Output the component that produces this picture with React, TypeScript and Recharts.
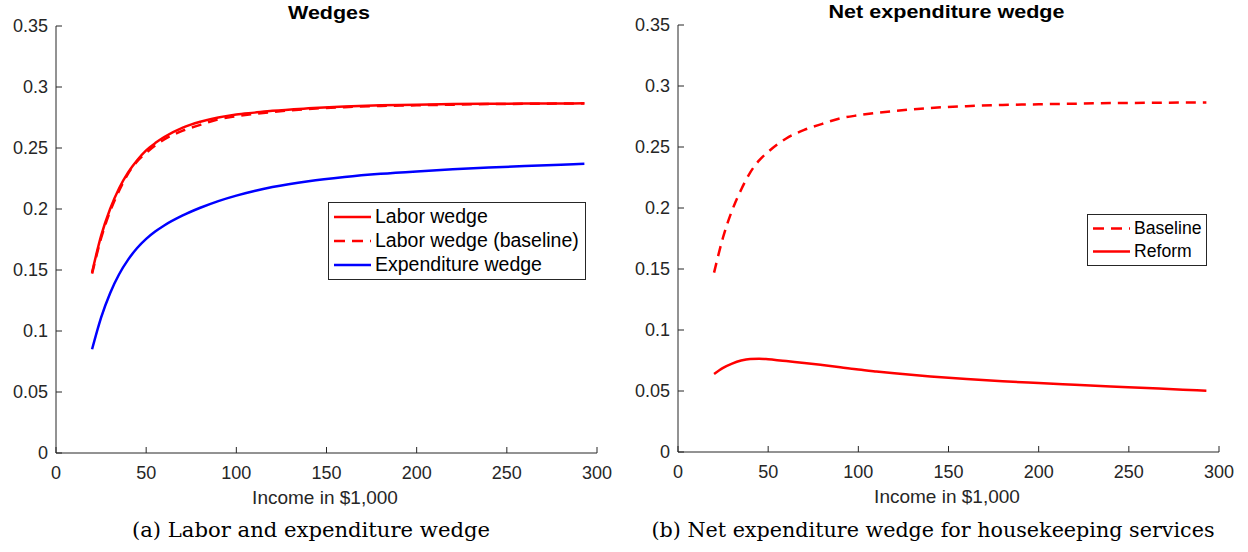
import React from "react";
import { LineChart, Line, XAxis, YAxis, Legend } from "recharts";

const income = [20, 25, 30, 35, 40, 45, 50, 55, 60, 70, 80, 90, 100, 110, 120, 140, 160, 180, 200, 220, 240, 260, 280, 293];
const laborWedge = [0.148, 0.178, 0.2, 0.217, 0.23, 0.24, 0.248, 0.254, 0.259, 0.2665, 0.2715, 0.275, 0.2775, 0.279, 0.2805, 0.2825, 0.284, 0.285, 0.2855, 0.286, 0.2862, 0.2864, 0.2865, 0.2866];
const laborBaseline = [0.147, 0.176, 0.198, 0.215, 0.229, 0.239, 0.246, 0.252, 0.257, 0.264, 0.269, 0.2735, 0.276, 0.278, 0.2795, 0.282, 0.2835, 0.2845, 0.285, 0.2855, 0.286, 0.2862, 0.2864, 0.2865];
const expenditureWedge = [0.085, 0.111, 0.131, 0.1465, 0.1585, 0.168, 0.1755, 0.1815, 0.1865, 0.1945, 0.201, 0.2065, 0.211, 0.2148, 0.218, 0.2228, 0.2262, 0.2288, 0.2308, 0.2325, 0.234, 0.2352, 0.2363, 0.237];
const reformNet = [0.064, 0.069, 0.0725, 0.075, 0.0763, 0.0765, 0.076, 0.0753, 0.0745, 0.073, 0.0713, 0.0695, 0.0676, 0.066, 0.0645, 0.0619, 0.0598, 0.058, 0.0565, 0.0551, 0.0537, 0.0524, 0.0511, 0.0503];

const xTicks = [0, 50, 100, 150, 200, 250, 300];
const yTicks = [0, 0.05, 0.1, 0.15, 0.2, 0.25, 0.3, 0.35];
const yTickLabels = ["0", "0.05", "0.1", "0.15", "0.2", "0.25", "0.3", "0.35"];

const titleA = "Wedges";
const titleB = "Net expenditure wedge";
const xLabel = "Income in $1,000";
const captionA = "(a) Labor and expenditure wedge";
const captionB = "(b) Net expenditure wedge for housekeeping services";
const legendOrderA = ["Labor wedge", "Labor wedge (baseline)", "Expenditure wedge"];
const legendOrderB = ["Baseline", "Reform"];

const dataA = income.map((x, i) => ({ x, labor: laborWedge[i], base: laborBaseline[i], exp: expenditureWedge[i] }));
const dataB = income.map((x, i) => ({ x, base: laborBaseline[i], reform: reformNet[i] }));

const AX = "#262626";
const FONT = "'Liberation Sans', Arial, Helvetica, sans-serif";
const TL = 6;
const DASH = "10 7";

const BottomTick = (p: any) => (
  <g>
    <line x1={p.x} x2={p.x} y1={p.y} y2={p.y - TL} stroke={AX} strokeWidth={1} />
    <text x={p.x} y={p.y + 26} textAnchor="middle" fontSize={18} fill={AX} fontFamily={FONT}>
      {p.payload.value}
    </text>
  </g>
);
const TopTick = (p: any) => (
  <line x1={p.x} x2={p.x} y1={p.y} y2={p.y + TL} stroke={AX} strokeWidth={1} />
);
const LeftTick = (p: any) => {
  const idx = yTicks.indexOf(p.payload.value);
  return (
    <g>
      <line x1={p.x} x2={p.x + TL} y1={p.y} y2={p.y} stroke={AX} strokeWidth={1} />
      <text x={p.x - 8} y={p.y + 6} textAnchor="end" fontSize={18} fill={AX} fontFamily={FONT}>
        {idx >= 0 ? yTickLabels[idx] : p.payload.value}
      </text>
    </g>
  );
};
const RightTick = (p: any) => (
  <line x1={p.x} x2={p.x - TL} y1={p.y} y2={p.y} stroke={AX} strokeWidth={1} />
);

const makeLegend = (fontSize: number, rowH: number, w: number, order: string[]) => (props: any) => {
  const items = [...(props.payload || [])].sort(
    (a: any, b: any) => order.indexOf(a.value) - order.indexOf(b.value)
  );
  return (
    <div
      style={{
        border: "1px solid #262626",
        background: "#fff",
        width: w,
        boxSizing: "border-box",
        padding: "2px 0 2px 4px",
        fontFamily: FONT,
        fontSize,
        color: "#000",
      }}
    >
      {items.map((it: any, i: number) => (
        <div key={i} style={{ display: "flex", alignItems: "center", height: rowH, whiteSpace: "nowrap" }}>
          <svg width={42} height={rowH} style={{ display: "block", flex: "none" }}>
            <line
              x1={1}
              x2={38}
              y1={rowH / 2}
              y2={rowH / 2}
              stroke={it.color}
              strokeWidth={2.5}
              strokeDasharray={it.payload && it.payload.strokeDasharray ? "11 7" : undefined}
            />
          </svg>
          <span style={{ lineHeight: 1 }}>{it.value}</span>
        </div>
      ))}
    </div>
  );
};

const Panel = ({ left, plotTop, plotBottom, data, children, legend, legendPos }: any) => (
  <div style={{ position: "absolute", left, top: 0 }}>
    <LineChart width={620} height={552} data={data} margin={{ top: plotTop, right: 23, bottom: 0, left: 0 }}>
      <XAxis
        dataKey="x"
        type="number"
        domain={[0, 300]}
        ticks={xTicks}
        allowDataOverflow
        height={552 - plotBottom}
        axisLine={{ stroke: AX }}
        tickLine={false}
        tickSize={0}
        tickMargin={0}
        tick={<BottomTick />}
        interval={0}
      />
      <XAxis
        xAxisId="t"
        orientation="top"
        dataKey="x"
        type="number"
        domain={[0, 300]}
        ticks={xTicks}
        height={0}
        axisLine={{ stroke: AX }}
        tickLine={false}
        tickSize={0}
        tickMargin={0}
        tick={<TopTick />}
        interval={0}
      />
      <YAxis
        type="number"
        domain={[0, 0.35]}
        ticks={yTicks}
        width={56}
        axisLine={{ stroke: AX }}
        tickLine={false}
        tickSize={0}
        tickMargin={0}
        tick={<LeftTick />}
        interval={0}
      />
      <YAxis
        yAxisId="r"
        orientation="right"
        type="number"
        domain={[0, 0.35]}
        ticks={yTicks}
        width={0}
        axisLine={{ stroke: AX }}
        tickLine={false}
        tickSize={0}
        tickMargin={0}
        tick={<RightTick />}
        interval={0}
      />
      {children}
      <Legend
        layout="vertical"
        align="center"
        verticalAlign="middle"
        wrapperStyle={{ left: legendPos.left, top: legendPos.top, width: legendPos.w }}
        content={legend}
      />
    </LineChart>
  </div>
);

export default function App() {
  return (
    <div style={{ position: "absolute", left: 0, top: 0, width: 1248, height: 552, background: "#fff", overflow: "hidden" }}>
      <Panel
        left={0}
        plotTop={26}
        plotBottom={453}
        data={dataA}
        legend={makeLegend(19.5, 24, 258, legendOrderA)}
        legendPos={{ left: 328, top: 202, w: 258 }}
      >
        <Line dataKey="labor" name="Labor wedge" type="monotone" stroke="#ff0000" strokeWidth={2.5} dot={false} isAnimationActive={false} />
        <Line dataKey="base" name="Labor wedge (baseline)" type="monotone" stroke="#ff0000" strokeWidth={2.5} strokeDasharray={DASH} dot={false} isAnimationActive={false} />
        <Line dataKey="exp" name="Expenditure wedge" type="monotone" stroke="#0000ff" strokeWidth={2.5} dot={false} isAnimationActive={false} />
      </Panel>
      <Panel
        left={622}
        plotTop={25}
        plotBottom={452}
        data={dataB}
        legend={makeLegend(17.6, 23, 120, legendOrderB)}
        legendPos={{ left: 1087 - 622, top: 214, w: 120 }}
      >
        <Line dataKey="base" name="Baseline" type="monotone" stroke="#ff0000" strokeWidth={2.5} strokeDasharray={DASH} dot={false} isAnimationActive={false} />
        <Line dataKey="reform" name="Reform" type="monotone" stroke="#ff0000" strokeWidth={2.5} dot={false} isAnimationActive={false} />
      </Panel>
      <svg width={1248} height={552} style={{ position: "absolute", left: 0, top: 0, pointerEvents: "none" }}>
        <text x={329} y={19} textAnchor="middle" fontSize={18.5} fontWeight="bold" fontFamily={FONT} fill="#000" textLength={82} lengthAdjust="spacingAndGlyphs">{titleA}</text>
        <text x={946.5} y={18} textAnchor="middle" fontSize={18.5} fontWeight="bold" fontFamily={FONT} fill="#000" textLength={236} lengthAdjust="spacingAndGlyphs">{titleB}</text>
        <text x={325} y={504} textAnchor="middle" fontSize={19} fontFamily={FONT} fill={AX}>{xLabel}</text>
        <text x={947} y={503} textAnchor="middle" fontSize={19} fontFamily={FONT} fill={AX}>{xLabel}</text>
        <text x={311} y={537} textAnchor="middle" fontSize={21} fontFamily="'DejaVu Serif', serif" fill="#000" textLength={358} lengthAdjust="spacingAndGlyphs">{captionA}</text>
        <text x={933} y={537} textAnchor="middle" fontSize={21} fontFamily="'DejaVu Serif', serif" fill="#000" textLength={563} lengthAdjust="spacingAndGlyphs">{captionB}</text>
      </svg>
    </div>
  );
}
